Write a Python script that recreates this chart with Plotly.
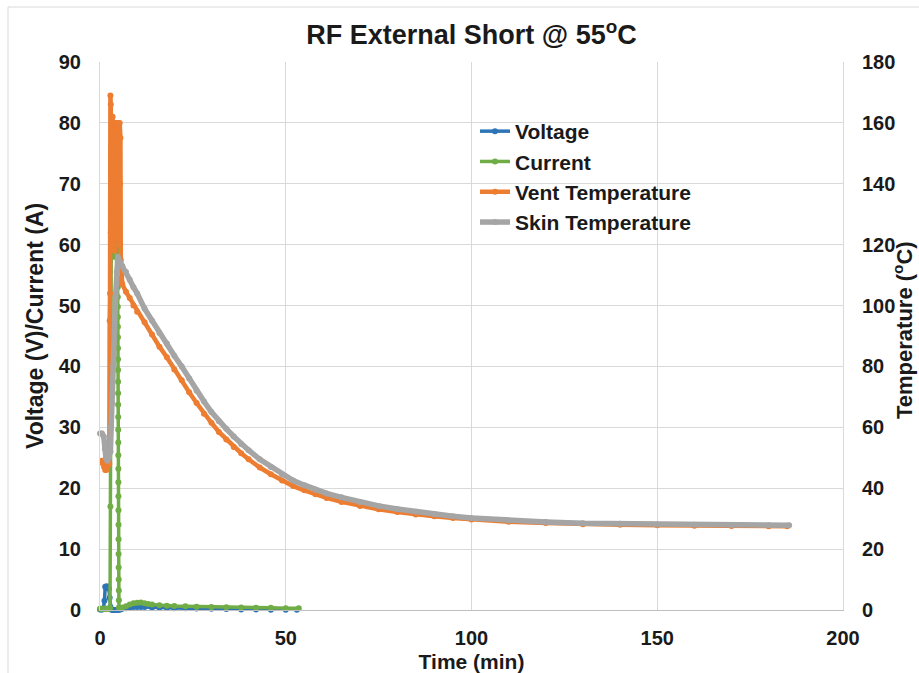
import plotly.graph_objects as go

# ---- Voltage (V) ----
volt_t = [0, 0.3, 0.6, 0.9, 1.2, 1.4, 1.6, 1.8, 2.0, 2.2, 2.4, 2.6, 2.8, 3.0, 3.3, 3.6,
          4.0, 4.5, 5.0, 5.5, 6, 7, 8, 9, 10, 11, 12, 14, 16, 18, 20, 23, 26, 30, 34,
          38, 42, 46, 50, 53]
volt_v = [0.1, 0.1, 0.1, 0.2, 1.5, 3.8, 3.7, 3.9, 3.6, 3.8, 3.5, 2.0, 0.5, 0.1, 0.0, 0.0,
          0.0, 0.0, 0.0, 0.1, 0.2, 0.3, 0.4, 0.5, 0.5, 0.5, 0.5, 0.4, 0.4, 0.35, 0.3, 0.3,
          0.25, 0.2, 0.15, 0.1, 0.1, 0.05, 0.05, 0.05]

# ---- Current (A) ----
curr_t = [0, 0.3, 0.6, 0.9, 1.2, 1.5, 1.8, 2.1, 2.4, 2.7, 2.8, 2.9,
          3.0, 3.1, 3.2, 3.3, 3.4, 3.5, 3.6, 3.7, 3.8, 3.9, 4.0, 4.1, 4.2, 4.3, 4.4,
          4.5, 4.6, 4.7,
          4.75, 4.76, 4.77, 4.78, 4.79, 4.80, 4.81, 4.82, 4.83, 4.84, 4.85, 4.86, 4.87,
          4.88, 4.89, 4.90, 4.91, 4.92, 4.93, 4.94, 4.95, 4.96, 4.97, 4.98, 4.99, 5.0,
          5.02, 5.04, 5.06, 5.08, 5.1,
          5.5, 6, 7, 8, 9, 10, 11, 12, 13, 14, 16, 18, 20, 23, 26, 30, 34, 38, 42, 46,
          50, 53.5]
curr_a = [0.2, 0.2, 0.2, 0.2, 0.2, 0.2, 0.2, 0.2, 0.2, 0.3, 17.0, 62.0,
          62, 75, 60, 70, 78, 65, 72, 58, 76, 68, 74, 60, 70, 77, 64,
          72, 66, 60,
          57.5, 56.0, 54.5, 53.0, 51.4, 49.8, 48.1, 46.5, 44.8, 43.0, 41.2, 39.4, 37.5,
          35.6, 33.7, 31.7, 29.6, 27.5, 25.4, 23.2, 21.0, 18.7, 16.4, 14.0, 11.6, 9.2,
          7.0, 5.0, 3.2, 1.6, 0.4,
          0.3, 0.4, 0.6, 0.9, 1.1, 1.2, 1.25, 1.1, 1.0, 0.9, 0.8, 0.7, 0.65, 0.6, 0.55,
          0.5, 0.45, 0.4, 0.38, 0.35, 0.3, 0.3]

# ---- Vent temperature (degC) ----
vent_t = [0.5, 0.8, 1.1, 1.4, 1.7, 2.0, 2.3, 2.5, 2.6, 2.7, 2.8, 2.9,
          3.0, 3.1, 3.2, 3.3, 3.4, 3.5, 3.6, 3.7, 3.8, 3.9, 4.0, 4.1, 4.2, 4.3, 4.4,
          4.5, 4.6, 4.7, 4.8, 4.9, 5.0, 5.1, 5.2, 5.3, 5.4, 5.5, 5.6,
          5.7, 6, 7, 8, 9, 10, 12, 14, 16, 18, 20, 22, 24, 26, 28, 30, 32, 34, 36, 38,
          40, 43, 46, 49, 52, 55, 58, 61, 65, 70, 75, 80, 85, 90, 95, 100, 110, 120,
          130, 140, 150, 160, 170, 180, 185]
vent_c = [49, 48, 47, 46, 46, 47, 48, 48, 95, 104, 169, 166,
          150, 125, 158, 130, 162, 120, 155, 140, 160, 118, 150, 135, 158, 125, 160,
          145, 122, 155, 160, 130, 150, 158, 120, 160, 140, 155, 115,
          108, 107, 104.5, 102.5, 100, 98, 94.5, 90.5, 86.5, 83, 79, 75.5, 71.5, 68,
          64.5, 61.5, 58.5, 56, 53.5, 51.5, 49.5, 46.8, 44.6, 42.5, 40.7, 39.3, 38,
          36.8, 35.5, 34.2, 33.1, 32.2, 31.4, 30.8, 30.2, 29.7, 29.0, 28.6, 28.2, 28.0,
          27.8, 27.7, 27.6, 27.5, 27.5]

# ---- Skin temperature (degC) ----
skin_t = [0, 0.5, 1.0, 1.3, 1.6, 2.0, 2.4, 2.8, 3.0, 3.3, 3.6, 3.9, 4.2, 4.5, 4.8,
          5.5, 6, 7, 8, 9, 10, 12, 14, 16, 18, 20, 22, 24, 26, 28, 30, 32, 34, 36, 38,
          40, 43, 46, 49, 52, 55, 58, 61, 65, 70, 75, 80, 85, 90, 95, 100, 110, 120,
          130, 140, 150, 160, 170, 180, 185.5]
skin_c = [58, 58, 57, 53, 50, 49, 50, 52, 60, 68, 80, 92, 103, 111, 116,
          114, 113, 111, 108.5, 106, 104, 99, 95, 91, 87.5, 83.5, 80, 76, 72, 68.5, 65,
          62, 59.5, 57, 54.5, 52.5, 49.5, 47, 44.5, 42.5, 41, 39.5, 38.3, 37, 35.5, 34.2,
          33.2, 32.3, 31.5, 30.8, 30.2, 29.4, 28.9, 28.5, 28.3, 28.1, 28.0, 27.9, 27.8,
          27.8]

# ---- Axis ticks ----
x_ticks = [0, 50, 100, 150, 200]
y_left_ticks = list(range(0, 91, 10))
y_right_ticks = list(range(0, 181, 20))

FONT = "Liberation Sans, Arial, sans-serif"
INK = "#1a1a1a"
GRID = "#d9d9d9"

fig = go.Figure()

series = [
    ("Voltage", volt_t, volt_v, "#2e75b6", "y", 3.5),
    ("Current", curr_t, curr_a, "#70ad47", "y", 3.5),
    ("Vent Temperature", vent_t, vent_c, "#ed7d31", "y2", 4.5),
    ("Skin Temperature", skin_t, skin_c, "#a5a5a5", "y2", 5.5),
]
for name, t, v, col, ax, lw in series:
    fig.add_trace(go.Scatter(
        x=t, y=v, name=name, yaxis=ax, mode="lines+markers",
        line=dict(color=col, width=lw),
        marker=dict(color=col, size=6),
        legendgroup=name,
        cliponaxis=False,
    ))

W, H = 919, 673
L, R, T, B = 100, 76, 62, 63
pw, ph = W - L - R, H - T - B

def px_x(p):
    return (p - L) / pw

def px_y(p):
    return (H - B - p) / ph

tick_font = dict(family=FONT, size=20, color=INK, weight="bold")
label_font = dict(family=FONT, size=21, color=INK, weight="bold")
side_font = dict(family=FONT, size=23, color=INK, weight="bold")

fig.update_layout(
    width=W, height=H,
    margin=dict(l=L, r=R, t=T, b=B),
    paper_bgcolor="white", plot_bgcolor="white",
    font=dict(family=FONT, size=20, color=INK, weight="bold"),
    title=dict(text="RF External Short @ 55<sup>o</sup>C", x=0.5, xref="paper",
               xanchor="center", y=1 - 35 / H, yanchor="middle",
               font=dict(family=FONT, size=27, color=INK, weight="bold")),
    xaxis=dict(range=[0, 200], tickvals=x_ticks, showgrid=True, gridcolor=GRID,
               gridwidth=1, zeroline=False, showline=True, linecolor="#bfbfbf",
               ticks="outside", ticklen=10, tickcolor="rgba(0,0,0,0)",
               tickfont=tick_font, automargin=False,
               title=dict(text="Time (min)", standoff=8, font=label_font)),
    yaxis=dict(range=[0, 90], tickvals=y_left_ticks, showgrid=True, gridcolor=GRID,
               gridwidth=1, zeroline=False, showline=True, linecolor=GRID,
               ticks="outside", ticklen=14, tickcolor="rgba(0,0,0,0)",
               tickfont=tick_font, automargin=False),
    yaxis2=dict(range=[0, 180], tickvals=y_right_ticks, overlaying="y", side="right",
                showgrid=False, zeroline=False, showline=True, linecolor=GRID,
                ticks="outside", ticklen=14, tickcolor="rgba(0,0,0,0)",
                tickfont=tick_font, automargin=False),
    legend=dict(x=px_x(475), y=px_y(111), xanchor="left", yanchor="top",
                bgcolor="rgba(0,0,0,0)", tracegroupgap=0,
                font=dict(family=FONT, size=21, color=INK, weight="bold")),
    annotations=[
        dict(text="Voltage (V)/Current (A)", textangle=-90, showarrow=False,
             xref="paper", yref="paper", x=px_x(35), y=px_y(326),
             xanchor="center", yanchor="middle", font=side_font),
        dict(text="Temperature (<sup>o</sup>C)", textangle=-90, showarrow=False,
             xref="paper", yref="paper", x=px_x(903), y=px_y(330),
             xanchor="center", yanchor="middle",
             font=dict(family=FONT, size=22, color=INK, weight="bold")),
    ],
    shapes=[dict(type="rect", xref="paper", yref="paper",
                 x0=px_x(8), x1=px_x(W + 20), y0=px_y(H + 20), y1=px_y(7),
                 line=dict(color=GRID, width=1), fillcolor="rgba(0,0,0,0)",
                 layer="below")],
)

fig.write_html("out.html")
